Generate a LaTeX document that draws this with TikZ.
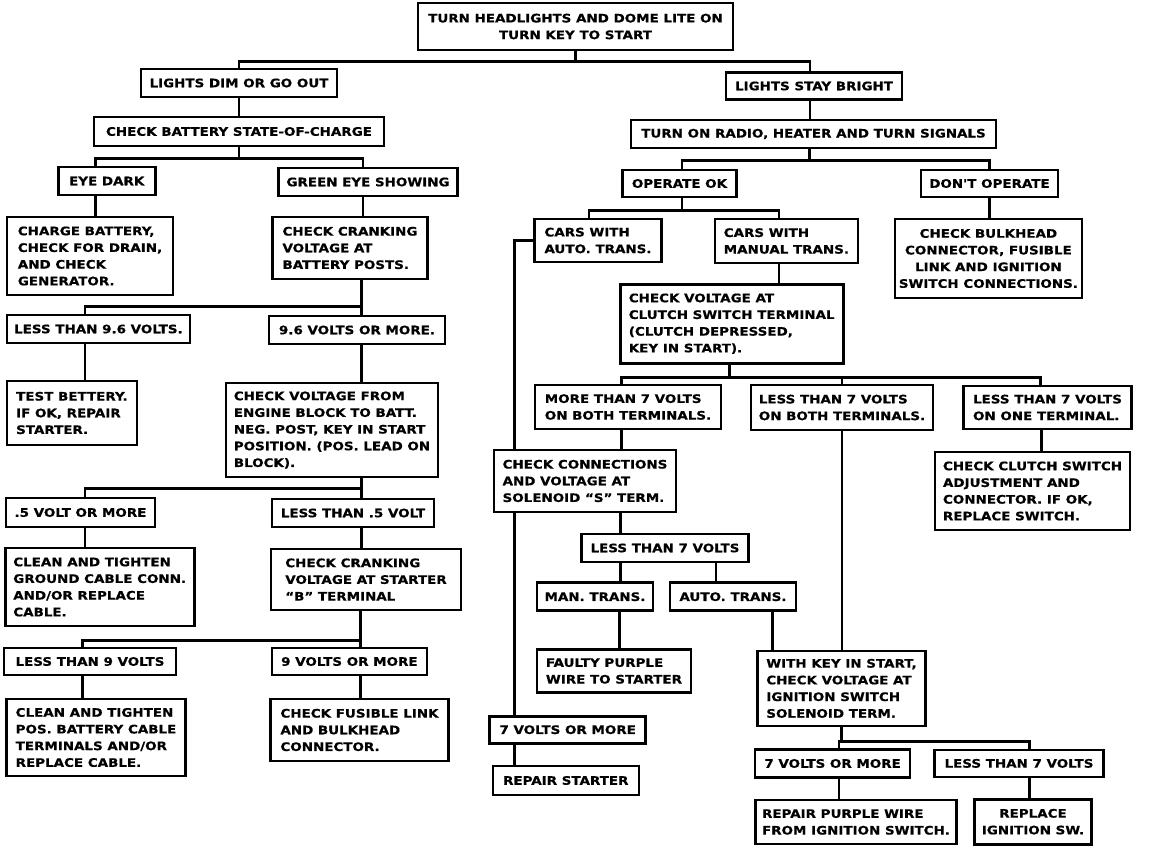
\documentclass[tikz,border=0pt]{standalone}
\usepackage{fontspec}
\newfontfamily\chartfont{DejaVu Sans}[FakeStretch=1.15,FakeBold=0.6]
\usetikzlibrary{backgrounds}

\tikzset{
  box/.style={draw, line width=2.6pt, fill=white, inner sep=2pt, align=left,
    font=\chartfont\bfseries\fontsize{11.7}{16.7}\selectfont},
  wh/.style 2 args={minimum width=#1pt, minimum height=#2pt},
  link/.style={line width=2.6pt}
}

\begin{document}
\begin{tikzpicture}[x=1pt,y=-1pt]
  \useasboundingbox (0,0) rectangle (1152,846);

  % Top
  \node[box, wh={315}{47}, align=center] (start) at (575.5,26.5) {TURN HEADLIGHTS AND DOME LITE ON\\TURN KEY TO START};
  \node[box, wh={196}{28}] (dim) at (239,83) {LIGHTS DIM OR GO OUT};
  \node[box, wh={176}{27}] (bright) at (814,86) {LIGHTS STAY BRIGHT};

  % Left branch
  \node[box, wh={290}{29}] (battery) at (239,131.5) {CHECK BATTERY STATE-OF-CHARGE};
  \node[box, wh={97}{28}] (eyedark) at (106.7,181) {EYE DARK};
  \node[box, wh={179}{28}] (green) at (368,182) {GREEN EYE SHOWING};
  \node[box, wh={166}{78}] (charge) at (90,256) {CHARGE BATTERY,\\CHECK FOR DRAIN,\\AND CHECK\\GENERATOR.};
  \node[box, wh={155}{62}] (crank) at (350,248) {CHECK CRANKING\\VOLTAGE AT\\BATTERY POSTS.};
  \node[box, wh={183}{28}] (less96) at (98.4,329) {LESS THAN 9.6 VOLTS.};
  \node[box, wh={176}{28}] (more96) at (357,330) {9.6 VOLTS OR MORE.};
  \node[box, wh={130}{64}] (test) at (71.9,413) {TEST BETTERY.\\IF OK, REPAIR\\STARTER.};
  \node[box, wh={212}{94}] (block) at (332,430) {CHECK VOLTAGE FROM\\ENGINE BLOCK TO BATT.\\NEG. POST, KEY IN START\\POSITION. (POS. LEAD ON\\BLOCK).};
  \node[box, wh={149}{29}] (hv) at (80.5,512.5) {.5 VOLT OR MORE};
  \node[box, wh={162}{28}] (lhv) at (353,513) {LESS THAN .5 VOLT};
  \node[box, wh={189}{78}] (ground) at (99.7,587) {CLEAN AND TIGHTEN\\GROUND CABLE CONN.\\AND/OR REPLACE\\CABLE.};
  \node[box, wh={190}{61}] (bterm) at (366,579.5) {CHECK CRANKING\\VOLTAGE AT STARTER\\“B” TERMINAL};
  \node[box, wh={172}{27}] (less9) at (90,661.5) {LESS THAN 9 VOLTS};
  \node[box, wh={155}{27}] (nine) at (349.4,661.5) {9 VOLTS OR MORE};
  \node[box, wh={179}{77}] (posclean) at (96,737.5) {CLEAN AND TIGHTEN\\POS. BATTERY CABLE\\TERMINALS AND/OR\\REPLACE CABLE.};
  \node[box, wh={178}{62}] (fusible) at (359.5,730) {CHECK FUSIBLE LINK\\AND BULKHEAD\\CONNECTOR.};

  % Right branch
  \node[box, wh={365}{28}] (radio) at (813.5,134) {TURN ON RADIO, HEATER AND TURN SIGNALS};
  \node[box, wh={114}{27}] (opok) at (679.5,183.5) {OPERATE OK};
  \node[box, wh={137}{27}] (dontop) at (989.5,183.5) {DON'T OPERATE};
  \node[box, wh={127}{43}] (auto) at (598,240.5) {CARS WITH\\AUTO. TRANS.};
  \node[box, wh={143}{44}] (manual) at (786.4,241) {CARS WITH\\MANUAL TRANS.};
  \node[box, wh={187}{79}, align=center] (bulkhead) at (988.4,258.5) {CHECK BULKHEAD\\CONNECTOR, FUSIBLE\\LINK AND IGNITION\\SWITCH CONNECTIONS.};
  \node[box, wh={223}{79}] (clutch) at (731.7,323.7) {CHECK VOLTAGE AT\\CLUTCH SWITCH TERMINAL\\(CLUTCH DEPRESSED,\\KEY IN START).};
  \node[box, wh={186}{44}] (morebot) at (628,407) {MORE THAN 7 VOLTS\\ON BOTH TERMINALS.};
  \node[box, wh={182}{45}] (lessbot) at (842,407.5) {LESS THAN 7 VOLTS\\ON BOTH TERMINALS.};
  \node[box, wh={168}{43}] (lessone) at (1047.5,407.5) {LESS THAN 7 VOLTS\\ON ONE TERMINAL.};
  \node[box, wh={182}{62}] (sconn) at (585,481) {CHECK CONNECTIONS\\AND VOLTAGE AT\\SOLENOID “S” TERM.};
  \node[box, wh={195}{78}] (cswitch) at (1032.5,491) {CHECK CLUTCH SWITCH\\ADJUSTMENT AND\\CONNECTOR. IF OK,\\REPLACE SWITCH.};
  \node[box, wh={167}{28}] (less7) at (665,548) {LESS THAN 7 VOLTS};
  \node[box, wh={116}{28}] (man) at (595,596.7) {MAN. TRANS.};
  \node[box, wh={126}{28}] (autot) at (733,596.7) {AUTO. TRANS.};
  \node[box, wh={154}{43}] (faulty) at (614,671) {FAULTY PURPLE\\WIRE TO STARTER};
  \node[box, wh={168}{75}] (withkey) at (841.5,688.4) {WITH KEY IN START,\\CHECK VOLTAGE AT\\IGNITION SWITCH\\SOLENOID TERM.};
  \node[box, wh={156}{27}] (sevenl) at (567.7,729.7) {7 VOLTS OR MORE};
  \node[box, wh={146}{29}] (repst) at (565.8,780.5) {REPAIR STARTER};
  \node[box, wh={155}{28}] (sevenr) at (832.6,763.5) {7 VOLTS OR MORE};
  \node[box, wh={169}{27}] (less7r) at (1019,763.4) {LESS THAN 7 VOLTS};
  \node[box, wh={201}{44}] (reppur) at (856,822) {REPAIR PURPLE WIRE\\FROM IGNITION SWITCH.};
  \node[box, wh={117}{45}, align=center] (repign) at (1033,821.7) {REPLACE\\IGNITION SW.};

  \begin{pgfonlayer}{background}
    % Top split
    \draw[link] (start.south) -- ++(0,10) coordinate (j0) -| (dim.north);
    \draw[link] (j0) -| ([xshift=-4pt]bright.north);
    \draw[link] (dim) -- (battery);
    \draw[link] ([xshift=-4pt]bright.south) -- ([xshift=-4pt]bright.south |- radio.north);

    % Battery state
    \draw[link] (battery.south) -- ++(0,11) coordinate (j1) -| ([xshift=-11pt]eyedark.north);
    \draw[link] (j1) -| ([xshift=-5pt]green.north);
    \draw[link] ([xshift=-11pt]eyedark.south) -- ([xshift=-11pt]eyedark.south |- charge.north);
    \draw[link] ([xshift=-5pt]green.south) -- ([xshift=-5pt]green.south |- crank.north);

    % Cranking voltage
    \draw[link] ([xshift=11.7pt]crank.south) -- ++(0,26) coordinate (j2) -| ([xshift=-13.4pt]less96.north);
    \draw[link] (j2) -| ([xshift=4.7pt]more96.north);
    \draw[link] ([xshift=-13.4pt]less96.south) -- ([xshift=-13.4pt]less96.south |- test.north);
    \draw[link] ([xshift=4.7pt]more96.south) -- ([xshift=4.7pt]more96.south |- block.north);

    % Engine block
    \draw[link] ([xshift=29.7pt]block.south) -- ++(0,10.3) coordinate (j3) -| ([xshift=4.5pt]hv.north);
    \draw[link] (j3) -| ([xshift=8.7pt]lhv.north);
    \draw[link] ([xshift=4.5pt]hv.south) -- ([xshift=4.5pt]hv.south |- ground.north);
    \draw[link] ([xshift=8.7pt]lhv.south) -- ([xshift=8.7pt]lhv.south |- bterm.north);

    % Starter terminal
    \draw[link] ([xshift=-5.3pt]bterm.south) -- ++(0,29) coordinate (j4) -| ([xshift=-7.3pt]less9.north);
    \draw[link] (j4) -| ([xshift=11.3pt]nine.north);
    \draw[link] ([xshift=-7.3pt]less9.south) -- ([xshift=-7.3pt]less9.south |- posclean.north);
    \draw[link] ([xshift=11.3pt]nine.south) -- ([xshift=11.3pt]nine.south |- fusible.north);

    % Accessories
    \draw[link] ([xshift=-4pt]radio.south) -- ++(0,11.3) coordinate (j5) -| ([xshift=2.3pt]opok.north);
    \draw[link] (j5) -| (dontop.north);
    \draw[link] (dontop.south) -- (dontop.south |- bulkhead.north);
    \draw[link] ([xshift=2.3pt]opok.south) -- ++(0,12) coordinate (j6) -| ([xshift=-9pt]auto.north);
    \draw[link] (j6) -| ([xshift=-7.6pt]manual.north);
    \draw[link] ([xshift=-7.6pt]manual.south) -- ([xshift=-7.6pt]manual.south |- clutch.north);

    % Auto trans
    \draw[link] (auto.west) -| ([xshift=-53pt]sevenl.north);
    \draw[link] ([xshift=-53pt]sevenl.south) -- ([xshift=-53pt]sevenl.south |- repst.north);

    % Clutch switch
    \draw[link] ([xshift=-2.3pt]clutch.south) -- ++(0,12.7) coordinate (j7) -| ([xshift=-6.6pt]morebot.north);
    \draw[link] (j7) -| (lessbot.north);
    \draw[link] (j7) -| ([xshift=-7pt]lessone.north);
    \draw[link] ([xshift=-6.6pt]morebot.south) -- ([xshift=-6.6pt]morebot.south |- sconn.north);
    \draw[link] ([xshift=-6pt]lessone.south) -- ([xshift=-6pt]lessone.south |- cswitch.north);
    \draw[link] (lessbot.south) -- (lessbot.south |- withkey.north);

    % Solenoid
    \draw[link] ([xshift=35.6pt]sconn.south) -- ([xshift=35.6pt]sconn.south |- less7.north);
    \draw[link] ([xshift=-44.4pt]less7.south) -- ([xshift=-44.4pt]less7.south |- man.north);
    \draw[link] ([xshift=51pt]less7.south) -- ([xshift=51pt]less7.south |- autot.north);
    \draw[link] ([xshift=24.3pt]man.south) -- ([xshift=24.3pt]man.south |- faulty.north);
    \draw[link] ([xshift=39.7pt]autot.south) -- ([xshift=39.7pt]autot.south |- withkey.north);

    % Ignition switch
    \draw[link] (withkey.south) -- ++(0,14) coordinate (j8) -| ([xshift=6.4pt]sevenr.north);
    \draw[link] (j8) -| ([xshift=10.5pt]less7r.north);
    \draw[link] ([xshift=6.4pt]sevenr.south) -- ([xshift=6.4pt]sevenr.south |- reppur.north);
    \draw[link] ([xshift=10.5pt]less7r.south) -- ([xshift=10.5pt]less7r.south |- repign.north);
  \end{pgfonlayer}
\end{tikzpicture}
\end{document}
